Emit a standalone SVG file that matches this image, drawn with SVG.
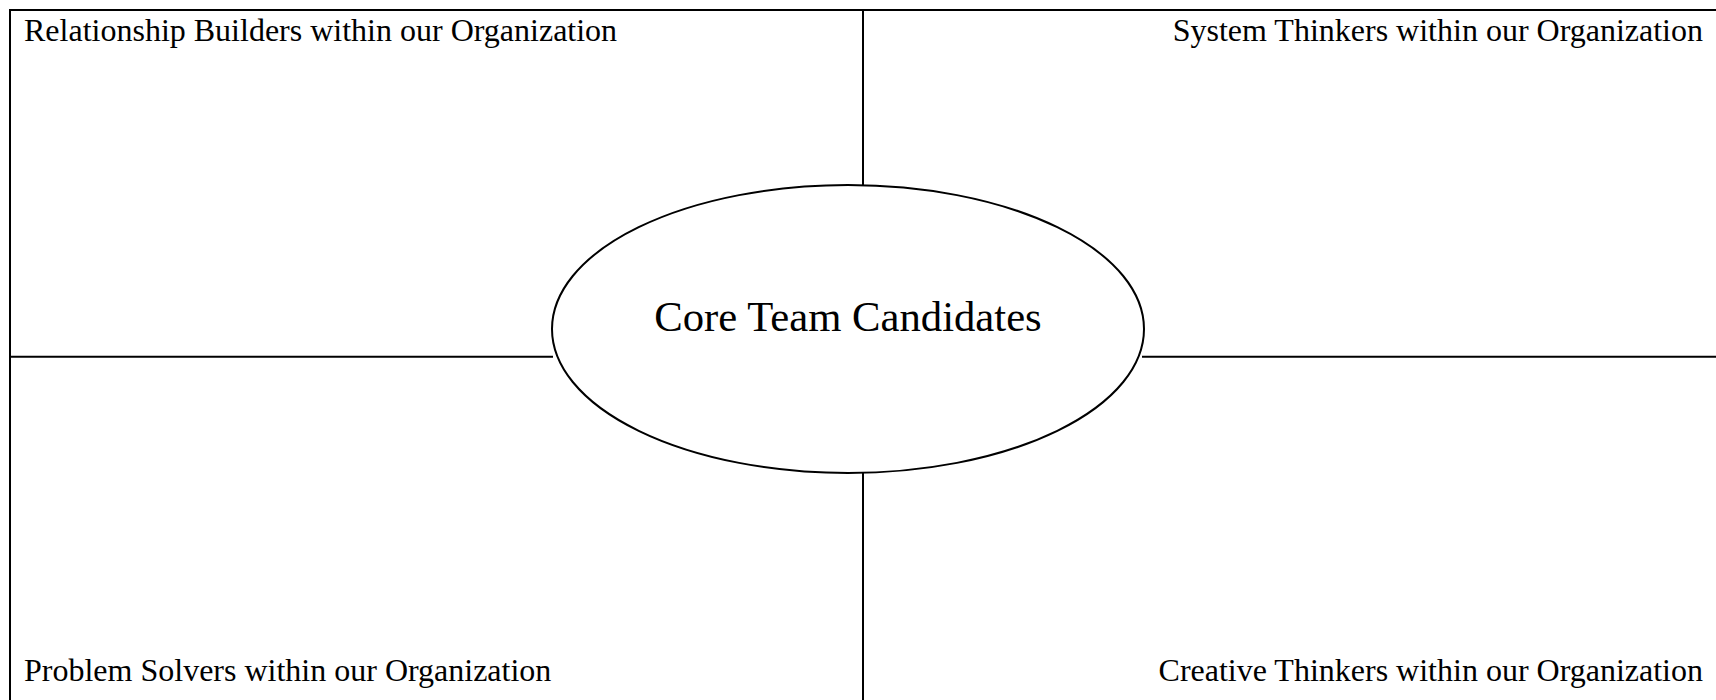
<svg xmlns="http://www.w3.org/2000/svg" width="1716" height="700" viewBox="0 0 1716 700">
<style>
.ln{stroke:#000;stroke-width:2;fill:none}
.lbl{font-family:"Liberation Serif","Times New Roman",serif;font-size:32px;fill:#000}
.core{font-family:"Liberation Serif","Times New Roman",serif;font-size:42.7px;fill:#000}
</style>
<rect width="1716" height="700" fill="#fff"/>
<g id="connectors">
<path class="ln" d="M10,720 V10 H1730"/>
<line class="ln" x1="863" y1="10" x2="863" y2="185"/>
<line class="ln" x1="863" y1="473" x2="863" y2="720"/>
<line class="ln" x1="10" y1="356.7" x2="553" y2="356.7"/>
<line class="ln" x1="1142" y1="356.7" x2="1730" y2="356.7"/>
</g>
<g id="q-relationship"><text class="lbl" x="24" y="40.5">Relationship Builders within our Organization</text></g>
<g id="q-system"><text class="lbl" x="1703" y="40.5" text-anchor="end">System Thinkers within our Organization</text></g>
<g id="q-problem"><text class="lbl" x="24" y="680.5">Problem Solvers within our Organization</text></g>
<g id="q-creative"><text class="lbl" x="1703" y="680.5" text-anchor="end">Creative Thinkers within our Organization</text></g>
<g id="core">
<ellipse class="ln" cx="848" cy="329" rx="296" ry="144" fill="#fff"/>
<text class="core" x="848" y="331" text-anchor="middle">Core Team Candidates</text>
</g>
</svg>
